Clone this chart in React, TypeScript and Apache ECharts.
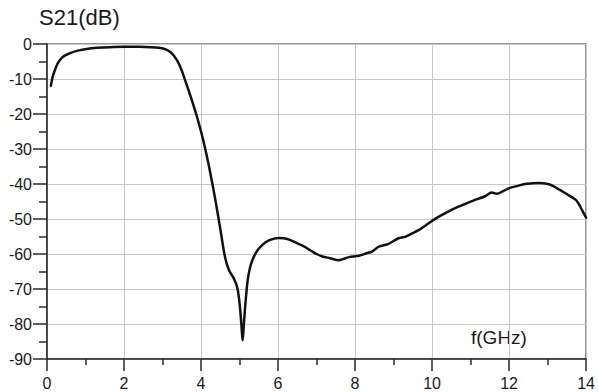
import React, { useEffect, useRef } from "react";
import * as echarts from "echarts";

const freqGHz: number[] = [
  0.1, 0.15, 0.21, 0.27, 0.34, 0.45, 0.6, 0.8, 1.03, 1.3, 1.63, 2.0, 2.4, 2.7, 2.9, 3.1, 3.2, 3.3, 3.4, 3.5,
  3.6, 3.7, 3.8, 3.9, 4.0, 4.1, 4.2, 4.3, 4.4, 4.5, 4.6, 4.67, 4.74, 4.8, 4.86, 4.92, 4.96, 5.01, 5.05,
  5.08, 5.11, 5.15, 5.21, 5.27, 5.34, 5.45, 5.6, 5.75, 5.9, 6.01, 6.15, 6.29, 6.46, 6.65, 6.89, 7.0, 7.15, 7.35, 7.58,
  7.7, 7.84, 8.1, 8.3, 8.44, 8.62, 8.87, 9.13, 9.3, 9.48, 9.65, 9.85, 10.02, 10.2, 10.43, 10.7, 10.94, 11.15, 11.38, 11.55,
  11.68, 11.85, 12.02, 12.2, 12.41, 12.6, 12.76, 13.01, 13.15, 13.27, 13.4, 13.53, 13.65, 13.75, 13.85, 13.93, 14.0,
];

const s21dB: number[] = [
  -11.9, -9.3, -7.3, -5.7, -4.5, -3.4, -2.6, -1.9, -1.4, -1.1, -0.9, -0.8, -0.8, -0.9, -1.1, -1.6, -2.3, -3.4, -5.1, -7.6,
  -10.8, -14.0, -17.4, -21.0, -25.0, -29.5, -34.6, -40.2, -46.3, -52.8, -59.6, -62.9, -64.9, -66.0, -67.2, -68.8, -70.6, -75, -80.5,
  -84.7, -80.5, -74.5, -67.6, -64, -61.6, -59.2, -57.3, -56.2, -55.6, -55.4, -55.5, -55.9, -56.7, -57.7, -59.3, -60, -60.7, -61.2, -61.8,
  -61.4, -60.9, -60.5, -59.8, -59.3, -57.9, -57.1, -55.5, -55.1, -54.1, -53.2, -51.7, -50.4, -49.2, -47.8, -46.4, -45.3, -44.4, -43.5, -42.4,
  -42.8, -42, -41.1, -40.6, -40, -39.8, -39.7, -40, -40.6, -41.4, -42.2, -43.1, -43.9, -44.7, -46.5, -48.2, -49.6,
];

const yTitle = "S21(dB)";
const xTitle = "f(GHz)";

const FONT = "'Liberation Sans', Arial, sans-serif";

export default function App() {
  const ref = useRef<HTMLDivElement>(null);
  useEffect(() => {
    if (!ref.current) return;
    const chart = echarts.init(ref.current, null, { renderer: "svg" });
    const data = freqGHz.map((f, i) => [f, s21dB[i]]);
    chart.setOption({
      animation: false,
      backgroundColor: "#ffffff",
      grid: {
        left: 47,
        right: 10,
        top: 44,
        bottom: 33,
        show: true,
        borderColor: "#2a2a2a",
        borderWidth: 1.2,
        backgroundColor: "transparent",
      },
      xAxis: {
        type: "value",
        min: 0,
        max: 14,
        interval: 2,
        axisLine: { show: true, onZero: false, lineStyle: { color: "#2a2a2a", width: 1.5 } },
        axisTick: { show: true, inside: false, length: 12, lineStyle: { color: "#2a2a2a", width: 1.5 } },
        minorTick: { show: true, splitNumber: 2, length: 6, lineStyle: { color: "#2a2a2a", width: 1.5 } },
        axisLabel: { margin: 16, color: "#1a1a1a", fontSize: 16, fontFamily: FONT },
        splitLine: { show: true, lineStyle: { color: "#c8c8c8", width: 1 } },
      },
      yAxis: {
        type: "value",
        min: -90,
        max: 0,
        interval: 10,
        axisLine: { show: true, onZero: false, lineStyle: { color: "#2a2a2a", width: 1.5 } },
        axisTick: { show: true, inside: false, length: 14, lineStyle: { color: "#2a2a2a", width: 1.5 } },
        minorTick: { show: true, splitNumber: 2, length: 8, lineStyle: { color: "#2a2a2a", width: 1.5 } },
        axisLabel: { margin: 15, color: "#1a1a1a", fontSize: 16, fontFamily: FONT },
        splitLine: { show: true, lineStyle: { color: "#c8c8c8", width: 1 } },
      },
      graphic: [
        {
          type: "text",
          left: 39,
          top: 6,
          style: { text: yTitle, fill: "#1a1a1a", font: `22px ${FONT}` },
        },
        {
          type: "text",
          left: 471,
          top: 328,
          style: { text: xTitle, fill: "#1a1a1a", font: `19px ${FONT}` },
        },
      ],
      series: [
        {
          type: "line",
          data,
          showSymbol: false,
          smooth: 0.3,
          lineStyle: { color: "#111111", width: 2.5, join: "round", cap: "round" },
        },
      ],
    });
    return () => chart.dispose();
  }, []);
  return <div ref={ref} style={{ width: 598, height: 392, position: "absolute", left: 0, top: 0 }} />;
}
